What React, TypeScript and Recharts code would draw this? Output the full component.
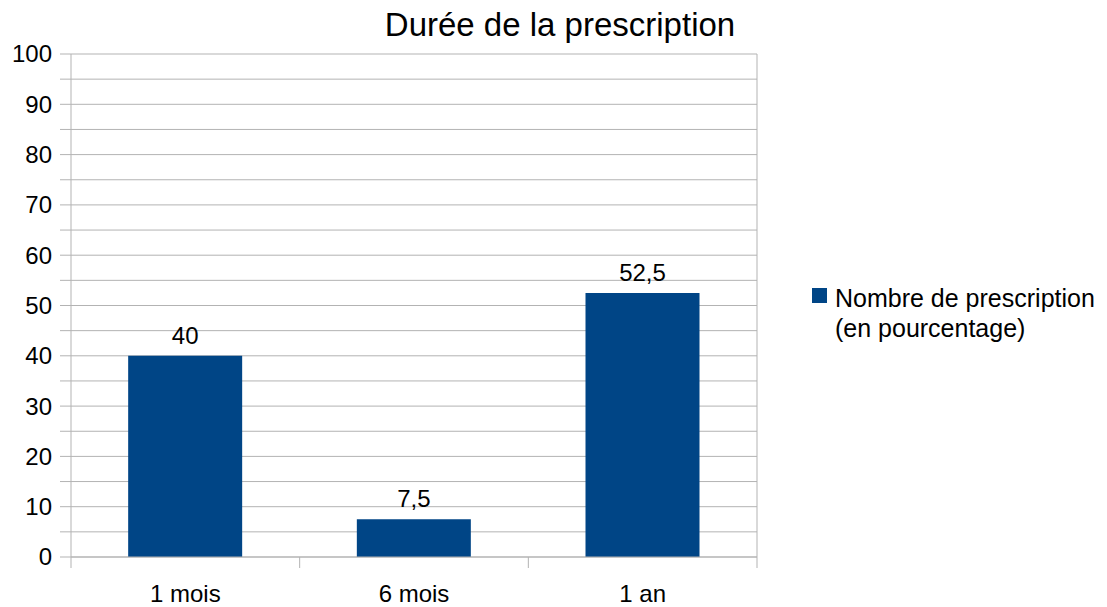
import { BarChart, Bar, XAxis, YAxis, CartesianGrid, Legend, LabelList } from "recharts";

const categories = ["1 mois", "6 mois", "1 an"];
const values = [40, 7.5, 52.5];
const yTicks = [0, 5, 10, 15, 20, 25, 30, 35, 40, 45, 50, 55, 60, 65, 70, 75, 80, 85, 90, 95, 100];
const seriesName = "Nombre de prescription (en pourcentage)";

const data = categories.map((c, i) => ({ name: c, value: values[i] }));

const FONT = '"Liberation Sans", Arial, sans-serif';
const GRID = "#b3b3b3";
const BAR = "#004586";

const WIDTH = 1107;
const HEIGHT = 607;
const MARGIN = { top: 54, right: 350, left: 0, bottom: 0 };
const Y_AXIS_W = 71;
const X_AXIS_H = 50;
const TICK_MARGIN = 28;
const PLOT_W = WIDTH - MARGIN.right - MARGIN.left - Y_AXIS_W;
const PLOT_H = HEIGHT - MARGIN.top - MARGIN.bottom - X_AXIS_H;
const BAND = PLOT_W / categories.length;

const YTick = (props: any) => {
  const { x, y, payload } = props;
  if (payload.value % 10 !== 0) return <g />;
  return (
    <text x={x} y={y} dy="0.35em" textAnchor="end" fontSize={24} fill="#000" fontFamily={FONT}>
      {payload.value}
    </text>
  );
};

// category label centred in its band, separator ticks on the band edges,
// and the right frame line after the last band
const XTick = (props: any) => {
  const { x, y, payload, index, visibleTicksCount } = props;
  const axisY = y - TICK_MARGIN;
  const left = x - BAND / 2;
  const right = x + BAND / 2;
  return (
    <g>
      <line x1={left} x2={left} y1={axisY} y2={axisY + 11} stroke={GRID} />
      {index === visibleTicksCount - 1 && (
        <line x1={right} x2={right} y1={axisY - PLOT_H} y2={axisY + 11} stroke={GRID} />
      )}
      <text x={x} y={y} dy="0.71em" textAnchor="middle" fontSize={24} fill="#000" fontFamily={FONT}>
        {payload.value}
      </text>
    </g>
  );
};

const LegendBox = () => (
  <div style={{ display: "flex", alignItems: "flex-start", fontFamily: FONT, fontSize: 25, color: "#000", lineHeight: "30px", textAlign: "left" }}>
    <span style={{ width: 15, height: 15, background: BAR, marginTop: 5, marginRight: 8, flexShrink: 0 }} />
    <span>
      Nombre de prescription
      <br />
      (en pourcentage)
    </span>
  </div>
);

export default function App() {
  return (
    <div style={{ position: "absolute", left: 0, top: 0, width: WIDTH, height: HEIGHT, background: "#fff", fontFamily: FONT }}>
      <div style={{ position: "absolute", left: 0, width: 1120, top: 6, textAlign: "center", fontSize: 33, color: "#000" }}>
        Durée de la prescription
      </div>
      <BarChart width={WIDTH} height={HEIGHT} data={data} margin={MARGIN} barCategoryGap="25%">
        <CartesianGrid vertical={false} stroke={GRID} />
        <XAxis
          dataKey="name"
          tickLine={false}
          axisLine={{ stroke: GRID }}
          tickSize={0}
          tickMargin={TICK_MARGIN}
          height={X_AXIS_H}
          interval={0}
          tick={<XTick />}
        />
        <YAxis
          domain={[0, 100]}
          ticks={yTicks}
          interval={0}
          width={Y_AXIS_W}
          tickSize={11}
          tickMargin={8}
          axisLine={{ stroke: GRID }}
          tickLine={{ stroke: GRID }}
          tick={<YTick />}
        />
        <Legend
          layout="horizontal"
          align="center"
          verticalAlign="middle"
          content={<LegendBox />}
          wrapperStyle={{ left: 812, top: 283, width: 295 }}
        />
        <Bar dataKey="value" name={seriesName} fill={BAR} isAnimationActive={false}>
          <LabelList
            dataKey="value"
            position="top"
            offset={12}
            formatter={(v: any) => String(v).replace(".", ",")}
            style={{ fontSize: 24, fill: "#000", fontFamily: FONT }}
          />
        </Bar>
      </BarChart>
    </div>
  );
}
